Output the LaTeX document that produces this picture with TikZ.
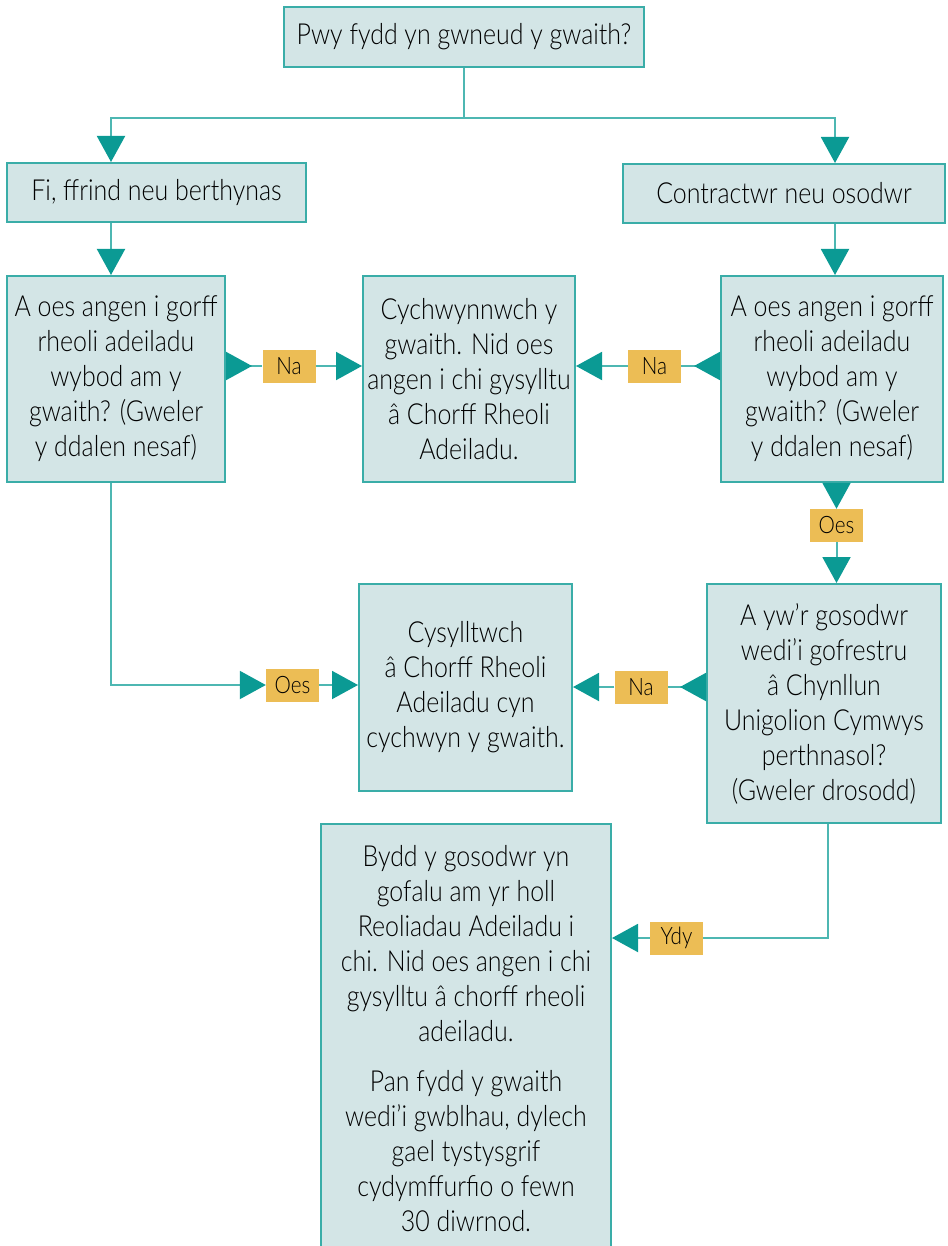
\documentclass[tikz,border=0pt]{standalone}
\usepackage{fontspec}
\setmainfont{Lato}[FakeStretch=0.86, UprightFont=* Light]
\usetikzlibrary{arrows.meta,positioning}
\definecolor{boxfill}{HTML}{D3E5E6}
\definecolor{boxline}{HTML}{3AADA8}
\definecolor{tipteal}{HTML}{0B9A94}
\definecolor{linkteal}{HTML}{4DB7B2}
\definecolor{tagfill}{HTML}{ECBD55}

\begin{document}
\begin{tikzpicture}[
    x=1pt, y=-1pt,
    box/.style={rectangle, draw=boxline, fill=boxfill, line width=2pt, align=center, inner sep=0pt, font=\fontsize{29}{35}\selectfont},
    tag/.style={rectangle, fill=tagfill, minimum width=53pt, minimum height=33pt, inner sep=0pt, font=\fontsize{24}{28}\selectfont},
    link/.style={draw=linkteal, line width=2pt},
    headT/.tip={Triangle[length=26pt, width=28pt, color=tipteal]},
    headR/.tip={Triangle[reversed, length=26pt, width=28pt, color=tipteal]},
]
    \useasboundingbox (0,0) rectangle (947,1246);

    % Question at top
    \node[box, minimum width=360pt, minimum height=60pt] (who) at (464,37) {Pwy fydd yn gwneud y gwaith?};
    \node[box, minimum width=299pt, minimum height=59pt] (self) at (156.5,192.5) {Fi, ffrind neu berthynas};
    \node[box, minimum width=322pt, minimum height=59pt] (trade) at (784,193.5) {Contractwr neu osodwr};

    % Row of questions
    \node[box, minimum width=218pt, minimum height=206pt] (askL) at (116,379) {A oes angen i gorff\\rheoli adeiladu\\wybod am y\\gwaith? (Gweler\\y ddalen nesaf)};
    \node[box, minimum width=212pt, minimum height=206pt] (begin) at (469,379) {Cychwynnwch y\\gwaith. Nid oes\\angen i chi gysylltu\\â Chorff Rheoli\\Adeiladu.};
    \node[box, minimum width=222pt, minimum height=206pt] (askR) at (832,379) {A oes angen i gorff\\rheoli adeiladu\\wybod am y\\gwaith? (Gweler\\y ddalen nesaf)};

    % Contact / scheme row
    \node[box, minimum width=213pt, minimum height=207pt] (contact) at (465.5,687.5) {Cysylltwch\\â Chorff Rheoli\\Adeiladu cyn\\cychwyn y gwaith.};
    \node[box, minimum width=234pt, minimum height=239pt] (scheme) at (824,703.5) {A yw’r gosodwr\\wedi’i gofrestru\\â Chynllun\\Unigolion Cymwys\\perthnasol?\\(Gweler drosodd)};

    % Installer box
    \node[box, minimum width=290pt, minimum height=429pt] (installer) at (466,1038.5) {Bydd y gosodwr yn\\gofalu am yr holl\\Reoliadau Adeiladu i\\chi. Nid oes angen i chi\\gysylltu â chorff rheoli\\adeiladu.\\[15pt]Pan fydd y gwaith\\wedi’i gwblhau, dylech\\gael tystysgrif\\cydymffurfio o fewn\\30 diwrnod.};

    % Answer tags
    \node[tag] (noL) at (289,366) {Na};
    \node[tag] (noR) at (654.5,366) {Na};
    \node[tag] (yesR) at (836.5,525.5) {Oes};
    \node[tag] (yesL) at (292.5,685) {Oes};
    \node[tag] (noM) at (641,687) {Na};
    \node[tag] (ydy) at (676.5,938) {Ydy};

    \coordinate (colL) at (111,0);
    \coordinate (colR) at (835,0);
    \coordinate (drop) at (828,0);
    \coordinate (fork) at (464,118);

    % Connectors
    \draw[link] (who.south) -- (fork);
    \draw[link, -headT] (fork) -| (self.north -| colL);
    \draw[link, -headT] (fork) -| (trade.north -| colR);
    \draw[link, -headT] (self.south -| colL) -- (askL.north -| colL);
    \draw[link, -headT] (trade.south -| colR) -- (askR.north -| colR);

    \draw[link, headR-] (askL.east |- noL) -- (noL.west);
    \draw[link, -headT] (noL.east) -- (begin.west |- noL);
    \draw[link, headR-] (askR.west |- noR) -- (noR.east);
    \draw[link, -headT] (noR.west) -- (begin.east |- noR);

    \draw[link, -headT] (askR.south -| yesR) -- (yesR.north);
    \draw[link, -headT] (yesR.south) -- (scheme.north -| yesR);

    \draw[link, -headT] (askL.south -| colL) |- (yesL.west);
    \draw[link, -headT] (yesL.east) -- (contact.west |- yesL);

    \draw[link, headR-] (scheme.west |- noM) -- (noM.east);
    \draw[link, -headT] (noM.west) -- (contact.east |- noM);

    \draw[link] (scheme.south -| drop) |- (ydy.east);
    \draw[link, -headT] (ydy.west) -- (installer.east |- ydy);

\end{tikzpicture}
\end{document}
